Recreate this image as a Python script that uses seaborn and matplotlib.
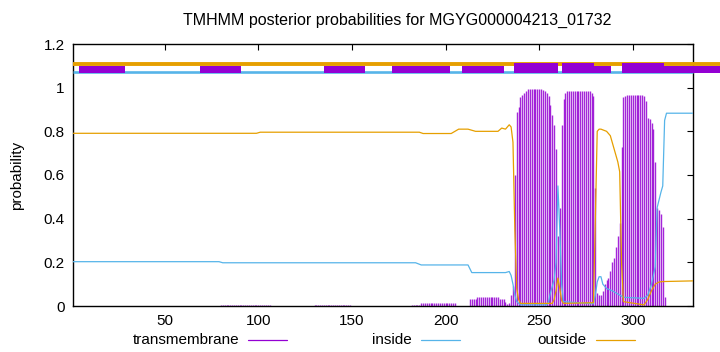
import matplotlib
matplotlib.use("Agg")
import matplotlib.pyplot as plt
import seaborn as sns
import numpy as np
from matplotlib.patches import Rectangle
from matplotlib.lines import Line2D

# ---------------- data ----------------
title = "TMHMM posterior probabilities for MGYG000004213_01732"
seq_len = 332

# transmembrane posterior (impulses): low flat runs (start, end, value)
tm_run_start = [80, 130, 182, 187, 213, 217, 229]
tm_run_end = [106, 149, 186, 205, 216, 228, 231]
tm_run_value = [0.005, 0.004, 0.006, 0.015, 0.032, 0.041, 0.032]

# transmembrane posterior, residue by residue in the helix region
tm_res = list(range(232, 318))
tm_val = [0.02, 0.01, 0.015, 0.05, 0.09, 0.6, 0.89, 0.91, 0.955, 0.965,
          0.975, 0.985, 0.993, 0.993, 0.993, 0.993, 0.993, 0.993, 0.993, 0.993,
          0.99, 0.985, 0.975, 0.96, 0.92, 0.875, 0.83, 0.72, 0.32, 0.45,
          0.83, 0.95, 0.975, 0.983, 0.986, 0.986, 0.986, 0.986, 0.986, 0.986,
          0.986, 0.986, 0.986, 0.986, 0.986, 0.983, 0.975, 0.96, 0.54, 0.06,
          0.05, 0.05, 0.07, 0.10, 0.12, 0.13, 0.16, 0.20, 0.22, 0.27,
          0.32, 0.38, 0.73, 0.955, 0.962, 0.965, 0.965, 0.965, 0.965, 0.965,
          0.965, 0.965, 0.965, 0.965, 0.962, 0.94, 0.86, 0.855, 0.84, 0.81,
          0.66, 0.45, 0.44, 0.42, 0.36, 0.04]

# "inside" curve (light blue)
inside_x = [1, 79, 81, 184, 187, 212, 214, 232, 234, 235, 236, 237, 238, 240,
            254, 255, 256, 257, 258, 259, 260, 261, 262, 263, 279, 280, 281,
            282, 283, 284, 286, 289, 292, 295, 306, 308, 310, 312, 313, 315,
            316, 317, 318, 332]
inside_y = [0.203, 0.203, 0.198, 0.198, 0.188, 0.188, 0.153, 0.153, 0.158,
            0.14, 0.10, 0.05, 0.02, 0.005, 0.005, 0.02, 0.06, 0.09, 0.12, 0.2,
            0.55, 0.35, 0.10, 0.02, 0.01, 0.05, 0.11, 0.134, 0.134, 0.10, 0.08,
            0.07, 0.055, 0.04, 0.035, 0.05, 0.10, 0.18, 0.45, 0.52, 0.55, 0.85,
            0.883, 0.883]

# "outside" curve (orange)
outside_x = [1, 99, 101, 186, 188, 203, 207, 212, 216, 228, 230, 232, 234,
             235, 236, 237, 238, 239, 240, 257, 258, 259, 260, 261, 262, 263,
             279, 280, 281, 282, 283, 286, 288, 290, 292, 293, 294, 295, 306,
             308, 310, 312, 314, 316, 332]
outside_y = [0.791, 0.791, 0.796, 0.796, 0.79, 0.79, 0.81, 0.81, 0.80, 0.80,
             0.815, 0.81, 0.83, 0.82, 0.75, 0.35, 0.08, 0.03, 0.012, 0.012,
             0.03, 0.07, 0.128, 0.08, 0.025, 0.012, 0.015, 0.40, 0.80, 0.81,
             0.81, 0.80, 0.78, 0.72, 0.66, 0.615, 0.20, 0.02, 0.005, 0.03,
             0.07, 0.10, 0.11, 0.112, 0.115]

# topology strip at the top
band_end = 347
box_start = [4, 69, 135, 171.5, 209, 236.5, 262.3, 279.5, 294, 316.6]
box_end = [29, 91, 157, 202.5, 231, 260.3, 279.5, 288.4, 316.6, 347]
box_top = [1.1015, 1.1015, 1.1015, 1.1015, 1.1015, 1.112, 1.112, 1.1015,
           1.112, 1.1015]

x_ticks = [50, 100, 150, 200, 250, 300]
y_ticks = [0, 0.2, 0.4, 0.6, 0.8, 1.0, 1.2]
y_tick_labels = ["0", "0.2", "0.4", "0.6", "0.8", "1", "1.2"]
legend_labels = ["transmembrane", "inside", "outside"]

PURPLE = "#9400d3"
BLUE = "#56b4e9"
ORANGE = "#e69f00"

# ---------------- figure ----------------
sns.set_theme(style="white")
plt.rcParams["font.family"] = ["Liberation Sans", "DejaVu Sans"]
plt.rcParams["text.color"] = "black"

W, H = 720, 352
fig = plt.figure(figsize=(W / 100, H / 100), dpi=100)
ax = fig.add_axes([73 / W, 1 - 306 / H, (692.7 - 73) / W, (306 - 44) / H])

# impulses
for s, e, v in zip(tm_run_start, tm_run_end, tm_run_value):
    xs = np.arange(s, e + 1)
    ax.vlines(xs, 0, v, color=PURPLE, lw=1.0, alpha=0.85, zorder=2)
ax.vlines(tm_res, 0, tm_val, color=PURPLE, lw=1.0, alpha=0.85, zorder=2)

# curves
sns.lineplot(x=inside_x, y=inside_y, color=BLUE, lw=0.9, ax=ax,
             estimator=None, sort=False, zorder=3)
sns.lineplot(x=outside_x, y=outside_y, color=ORANGE, lw=0.9, ax=ax,
             estimator=None, sort=False, zorder=3)

# topology strip
ax.plot([1, band_end], [1.11, 1.11], color=ORANGE, lw=2.8,
        solid_capstyle="butt", clip_on=False, zorder=4)
ax.plot([1, seq_len], [1.0695, 1.0695], color=BLUE, lw=1.9,
        solid_capstyle="butt", clip_on=False, zorder=4)
for s, e, t in zip(box_start, box_end, box_top):
    ax.add_patch(Rectangle((s, 1.066), e - s, t - 1.066, facecolor=PURPLE,
                           edgecolor="none", clip_on=False, zorder=5))

ax.set_xlim(1, seq_len)
ax.set_ylim(0, 1.2)
ax.set_xticks(x_ticks)
ax.set_xticklabels([str(t) for t in x_ticks])
ax.set_yticks(y_ticks)
ax.set_yticklabels(y_tick_labels)
ax.tick_params(direction="in", top=True, right=True, length=4, width=0.8,
               labelsize=11, colors="black", pad=6)
ax.tick_params(axis="x", top=True, labeltop=False)
for sp in ax.spines.values():
    sp.set_color("black")
    sp.set_linewidth(1.0)
ax.set_xlabel("")
ax.set_ylabel("")

fig.text(397 / W, 1 - 20 / H, title, ha="center", va="center", fontsize=11.5,
         color="black")
fig.text(17 / W, 1 - 175 / H, "probability", rotation=90, ha="center",
         va="center", fontsize=11, color="black")

# legend at bottom
leg_text_right = [239, 412, 587]
leg_line = [(248, 287), (421, 460), (596, 635)]
leg_colors = [PURPLE, BLUE, ORANGE]
ly = 1 - 340 / H
for lab, xr, (l0, l1), c in zip(legend_labels, leg_text_right, leg_line, leg_colors):
    fig.text(xr / W, ly, lab, ha="right", va="center", fontsize=11,
             color="black")
    fig.add_artist(Line2D([l0 / W, l1 / W], [ly, ly], color=c, lw=0.9,
                          transform=fig.transFigure))

fig.savefig("out.png", dpi=100)
